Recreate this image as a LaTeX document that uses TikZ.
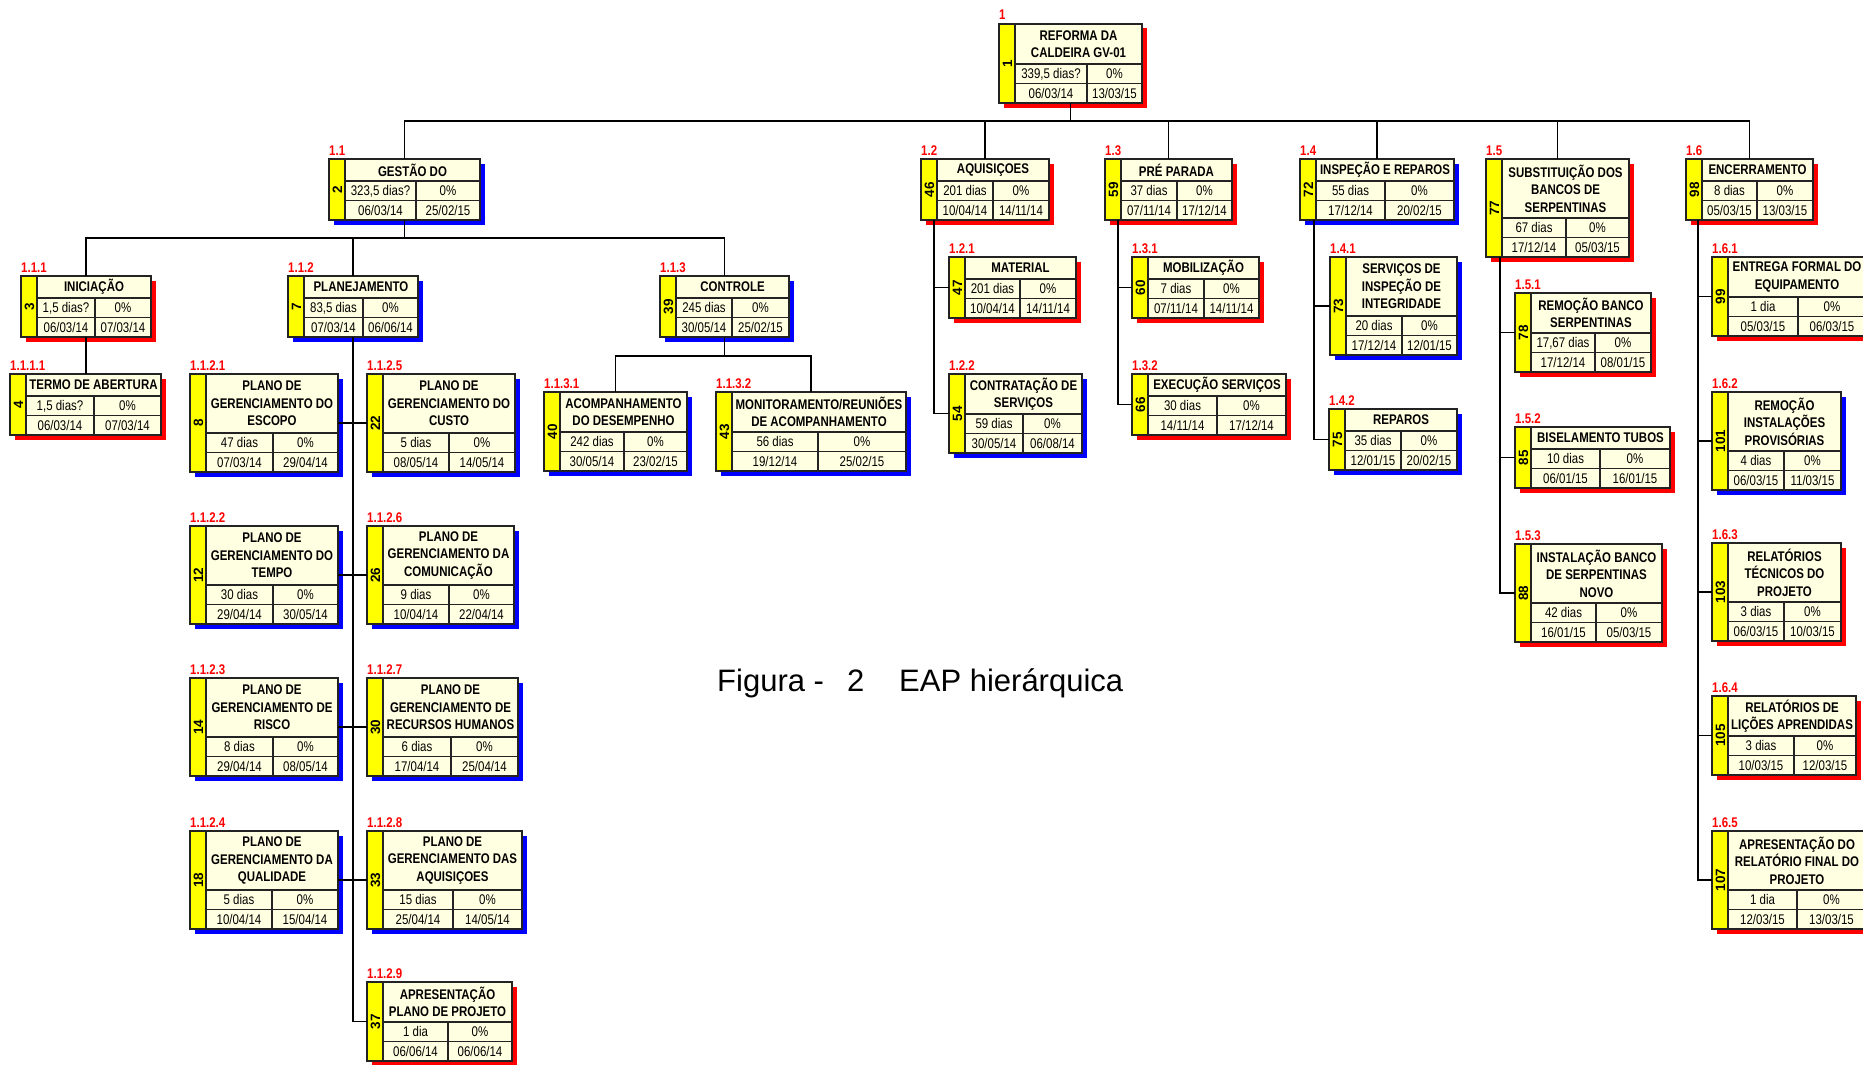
\documentclass[tikz,border=0pt]{standalone}
\usepackage{fontspec}
\setmainfont{Liberation Sans}
\newfontfamily\narrowfont{Liberation Sans}[FakeStretch=0.82]
\usetikzlibrary{calc}

\definecolor{cellfill}{RGB}{255,255,225}
\definecolor{bandfill}{RGB}{255,255,0}
\definecolor{shred}{RGB}{255,0,0}
\definecolor{shblue}{RGB}{0,0,255}
\definecolor{codered}{RGB}{255,0,0}
\definecolor{edge}{RGB}{35,35,35}

\tikzset{
  cell/.style={draw=edge, line width=1.3pt},
  headtext/.style={font=\narrowfont\bfseries\fontsize{14}{17.5}\selectfont, align=center, inner sep=0pt},
  datatext/.style={font=\narrowfont\fontsize{14}{16}\selectfont, inner sep=0pt, text height=10pt, text depth=0.5pt},
  bandtext/.style={font=\bfseries\fontsize{13.5}{15}\selectfont, rotate=90, inner sep=0pt},
  wbscode/.style={font=\narrowfont\bfseries\fontsize{14}{15}\selectfont, text=codered, anchor=base west, inner sep=0pt},
  link/.style={draw=black, line width=1.8pt},
  captext/.style={font=\fontsize{31}{34}\selectfont, anchor=base west, inner sep=0pt},
}

% \wbsbox{name}{left}{top}{right}{header height}{divider}{shadow}{code}{id}
%        {header}{duration}{progress}{start}{finish}
\newcommand\wbsbox[9]{%
  \def\wbsName{#1}\def\wbsL{#2}\def\wbsT{#3}\def\wbsR{#4}\def\wbsH{#5}%
  \def\wbsD{#6}\def\wbsS{#7}\def\wbsC{#8}\def\wbsN{#9}%
  \wbsfill}
\newcommand\wbsfill[5]{%
  \pgfmathsetmacro\wbsA{\wbsT+\wbsH}%
  \pgfmathsetmacro\wbsM{\wbsA+19.5}%
  \pgfmathsetmacro\wbsB{\wbsM+19.5}%
  \pgfmathsetmacro\wbsY{\wbsL+16}%
  \pgfmathsetmacro\wbsW{\wbsR-\wbsL}%
  \pgfmathsetmacro\wbsV{\wbsB-\wbsT}%
  \fill[\wbsS] (\wbsL+4.5,\wbsT+4.5) rectangle (\wbsR+4.5,\wbsB+4.5);
  \node[cell, fill=cellfill, anchor=north west, minimum width=\wbsW pt,
        minimum height=\wbsV pt, inner sep=0pt, outer sep=0pt] (\wbsName) at (\wbsL,\wbsT) {};
  \fill[bandfill] (\wbsL,\wbsT) rectangle (\wbsY,\wbsB);
  \draw[cell] (\wbsL,\wbsT) rectangle (\wbsR,\wbsB);
  \draw[cell] (\wbsY,\wbsT) -- (\wbsY,\wbsB)
              (\wbsY,\wbsA) -- (\wbsR,\wbsA)
              (\wbsY,\wbsM) -- (\wbsR,\wbsM)
              (\wbsD,\wbsA) -- (\wbsD,\wbsB);
  \node[headtext] (\wbsName-h) at ({(\wbsY+\wbsR)/2},{\wbsT+\wbsH/2}) {#1};
  \node[datatext] (\wbsName-d) at ({(\wbsY+\wbsD)/2},{(\wbsA+\wbsM)/2}) {#2};
  \node[datatext] (\wbsName-p) at ({(\wbsD+\wbsR)/2},{(\wbsA+\wbsM)/2}) {#3};
  \node[datatext] (\wbsName-s) at ({(\wbsY+\wbsD)/2},{(\wbsM+\wbsB)/2}) {#4};
  \node[datatext] (\wbsName-f) at ({(\wbsD+\wbsR)/2},{(\wbsM+\wbsB)/2}) {#5};
  \node[bandtext] (\wbsName-n) at ({\wbsL+8.5},{(\wbsT+\wbsB)/2}) {\wbsN};
  \node[wbscode] (\wbsName-c) at (\wbsL,\wbsT-4) {\wbsC};
}

\begin{document}
\begin{tikzpicture}[x=1pt,y=-1pt]
\useasboundingbox (0,0) rectangle (1863,1065);
\clip (0,0) rectangle (1863,1065);

% ---- project root
\wbsbox{n1}{999}{24}{1142}{40}{1087}{shred}{1}{1}
  {REFORMA DA\\CALDEIRA GV-01}{339,5 dias?}{0\%}{06/03/14}{13/03/15}

% ---- 1.1 management branch
\wbsbox{n11}{329}{159}{480}{22}{416}{shblue}{1.1}{2}
  {GESTÃO DO}{323,5 dias?}{0\%}{06/03/14}{25/02/15}
\wbsbox{n111}{21}{276}{151}{22}{95}{shred}{1.1.1}{3}
  {INICIAÇÃO}{1,5 dias?}{0\%}{06/03/14}{07/03/14}
\wbsbox{n1111}{10}{374}{161}{22}{94}{shred}{1.1.1.1}{4}
  {TERMO DE ABERTURA}{1,5 dias?}{0\%}{06/03/14}{07/03/14}
\wbsbox{n112}{288}{276}{418}{22}{363}{shblue}{1.1.2}{7}
  {PLANEJAMENTO}{83,5 dias}{0\%}{07/03/14}{06/06/14}
\wbsbox{n113}{660}{276}{789}{22}{732}{shblue}{1.1.3}{39}
  {CONTROLE}{245 dias}{0\%}{30/05/14}{25/02/15}
\wbsbox{n1131}{544}{392}{687}{40}{624}{shblue}{1.1.3.1}{40}
  {ACOMPANHAMENTO\\DO DESEMPENHO}{242 dias}{0\%}{30/05/14}{23/02/15}
\wbsbox{n1132}{716}{392}{906}{40}{818}{shblue}{1.1.3.2}{43}
  {MONITORAMENTO/REUNIÕES\\DE ACOMPANHAMENTO}{56 dias}{0\%}{19/12/14}{25/02/15}

\wbsbox{n1121}{190}{374}{338}{59}{273}{shblue}{1.1.2.1}{8}
  {PLANO DE\\GERENCIAMENTO DO\\ESCOPO}{47 dias}{0\%}{07/03/14}{29/04/14}
\wbsbox{n1125}{367}{374}{515}{59}{449}{shblue}{1.1.2.5}{22}
  {PLANO DE\\GERENCIAMENTO DO\\CUSTO}{5 dias}{0\%}{08/05/14}{14/05/14}
\wbsbox{n1122}{190}{526}{338}{59}{273}{shblue}{1.1.2.2}{12}
  {PLANO DE\\GERENCIAMENTO DO\\TEMPO}{30 dias}{0\%}{29/04/14}{30/05/14}
\wbsbox{n1126}{367}{526}{514}{59}{449}{shblue}{1.1.2.6}{26}
  {PLANO DE\\GERENCIAMENTO DA\\COMUNICAÇÃO}{9 dias}{0\%}{10/04/14}{22/04/14}
\wbsbox{n1123}{190}{678}{338}{59}{273}{shblue}{1.1.2.3}{14}
  {PLANO DE\\GERENCIAMENTO DE\\RISCO}{8 dias}{0\%}{29/04/14}{08/05/14}
\wbsbox{n1127}{367}{678}{518}{59}{451}{shblue}{1.1.2.7}{30}
  {PLANO DE\\GERENCIAMENTO DE\\RECURSOS HUMANOS}{6 dias}{0\%}{17/04/14}{25/04/14}
\wbsbox{n1124}{190}{831}{338}{59}{272}{shblue}{1.1.2.4}{18}
  {PLANO DE\\GERENCIAMENTO DA\\QUALIDADE}{5 dias}{0\%}{10/04/14}{15/04/14}
\wbsbox{n1128}{367}{831}{522}{59}{453}{shblue}{1.1.2.8}{33}
  {PLANO DE\\GERENCIAMENTO DAS\\AQUISIÇOES}{15 dias}{0\%}{25/04/14}{14/05/14}
\wbsbox{n1129}{367}{982}{512}{40}{448}{shred}{1.1.2.9}{37}
  {APRESENTAÇÃO\\PLANO DE PROJETO}{1 dia}{0\%}{06/06/14}{06/06/14}

% ---- 1.2 procurement
\wbsbox{n12}{921}{159}{1049}{22}{993}{shred}{1.2}{46}
  {AQUISIÇOES}{201 dias}{0\%}{10/04/14}{14/11/14}
\wbsbox{n121}{949}{257}{1076}{22}{1020}{shred}{1.2.1}{47}
  {MATERIAL}{201 dias}{0\%}{10/04/14}{14/11/14}
\wbsbox{n122}{949}{374}{1082}{40}{1023}{shblue}{1.2.2}{54}
  {CONTRATAÇÃO DE\\SERVIÇOS}{59 dias}{0\%}{30/05/14}{06/08/14}

% ---- 1.3 pre-shutdown
\wbsbox{n13}{1105}{159}{1232}{22}{1177}{shred}{1.3}{59}
  {PRÉ PARADA}{37 dias}{0\%}{07/11/14}{17/12/14}
\wbsbox{n131}{1132}{257}{1259}{22}{1204}{shred}{1.3.1}{60}
  {MOBILIZAÇÃO}{7 dias}{0\%}{07/11/14}{14/11/14}
\wbsbox{n132}{1132}{374}{1286}{22}{1217}{shred}{1.3.2}{66}
  {EXECUÇÃO SERVIÇOS}{30 dias}{0\%}{14/11/14}{17/12/14}

% ---- 1.4 inspection
\wbsbox{n14}{1300}{159}{1454}{22}{1385}{shblue}{1.4}{72}
  {INSPEÇÃO E REPAROS}{55 dias}{0\%}{17/12/14}{20/02/15}
\wbsbox{n141}{1330}{257}{1457}{59}{1402}{shblue}{1.4.1}{73}
  {SERVIÇOS DE\\INSPEÇÃO DE\\INTEGRIDADE}{20 dias}{0\%}{17/12/14}{12/01/15}
\wbsbox{n142}{1329}{409}{1457}{22}{1401}{shblue}{1.4.2}{75}
  {REPAROS}{35 dias}{0\%}{12/01/15}{20/02/15}

% ---- 1.5 coil bank replacement
\wbsbox{n15}{1486}{159}{1629}{59}{1566}{shred}{1.5}{77}
  {SUBSTITUIÇÃO DOS\\BANCOS DE\\SERPENTINAS}{67 dias}{0\%}{17/12/14}{05/03/15}
\wbsbox{n151}{1515}{293}{1651}{40}{1595}{shred}{1.5.1}{78}
  {REMOÇÃO BANCO\\SERPENTINAS}{17,67 dias}{0\%}{17/12/14}{08/01/15}
\wbsbox{n152}{1515}{427}{1670}{22}{1600}{shred}{1.5.2}{85}
  {BISELAMENTO TUBOS}{10 dias}{0\%}{06/01/15}{16/01/15}
\wbsbox{n153}{1515}{544}{1662}{59}{1596}{shred}{1.5.3}{88}
  {INSTALAÇÃO BANCO\\DE SERPENTINAS\\NOVO}{42 dias}{0\%}{16/01/15}{05/03/15}

% ---- 1.6 closing
\wbsbox{n16}{1686}{159}{1813}{22}{1757}{shred}{1.6}{98}
  {ENCERRAMENTO}{8 dias}{0\%}{05/03/15}{13/03/15}
\wbsbox{n161}{1712}{257}{1866}{40}{1798}{shred}{1.6.1}{99}
  {ENTREGA FORMAL DO\\EQUIPAMENTO}{1 dia}{0\%}{05/03/15}{06/03/15}
\wbsbox{n162}{1712}{392}{1841}{59}{1784}{shblue}{1.6.2}{101}
  {REMOÇÃO\\INSTALAÇÕES\\PROVISÓRIAS}{4 dias}{0\%}{06/03/15}{11/03/15}
\wbsbox{n163}{1712}{543}{1841}{59}{1784}{shred}{1.6.3}{103}
  {RELATÓRIOS\\TÉCNICOS DO\\PROJETO}{3 dias}{0\%}{06/03/15}{10/03/15}
\wbsbox{n164}{1712}{696}{1856}{40}{1794}{shred}{1.6.4}{105}
  {RELATÓRIOS DE\\LIÇÕES APRENDIDAS}{3 dias}{0\%}{10/03/15}{12/03/15}
\wbsbox{n165}{1712}{831}{1866}{59}{1797}{shred}{1.6.5}{107}
  {APRESENTAÇÃO DO\\RELATÓRIO FINAL DO\\PROJETO}{1 dia}{0\%}{12/03/15}{13/03/15}

% ---- connectors
\coordinate (bus0) at (0,121);
\draw[link] (n1.south) -- (n1.south |- bus0);
\draw[link] (n11.north) |- (n16.north |- bus0) -- (n16.north);
\foreach \c in {n12,n13,n14,n15}
  \draw[link] (\c.north) -- (\c.north |- bus0);

\coordinate (bus1) at (0,238);
\draw[link] (n11.south) -- (n11.south |- bus1);
\draw[link] (n111.north) |- (n113.north |- bus1) -- (n113.north);
\draw[link] (n112.north) -- (n112.north |- bus1);
\draw[link] (n111.south) -- (n111.south |- n1111.north);

\coordinate (bus3) at (0,356);
\draw[link] (n113.south) -- (n113.south |- bus3);
\draw[link] (n1131.north) |- (n1132.north |- bus3) -- (n1132.north);

\draw[link] (n112.south) |- (n1129.west);
\draw[link] (n1121.east) -- (n1125.west);
\draw[link] (n1122.east) -- (n1126.west);
\draw[link] (n1123.east) -- (n1127.west);
\draw[link] (n1124.east) -- (n1128.west);

\coordinate (s12) at ($(n12.south west)+(13,0)$);
\draw[link] (s12) |- (n122.west);
\draw[link] (n121.west) -- (n121.west -| s12);

\coordinate (s13) at ($(n13.south west)+(13,0)$);
\draw[link] (s13) |- (n132.west);
\draw[link] (n131.west) -- (n131.west -| s13);

\coordinate (s14) at ($(n14.south west)+(14,0)$);
\draw[link] (s14) |- (n142.west);
\draw[link] (n141.west) -- (n141.west -| s14);

\coordinate (s15) at ($(n15.south west)+(14,0)$);
\draw[link] (s15) |- (n153.west);
\foreach \c in {n151,n152}
  \draw[link] (\c.west) -- (\c.west -| s15);

\coordinate (s16) at ($(n16.south west)+(12,0)$);
\draw[link] (s16) |- (n165.west);
\foreach \c in {n161,n162,n163,n164}
  \draw[link] (\c.west) -- (\c.west -| s16);

% ---- caption
\node[captext] (cap1) at (717,691) {Figura -};
\node[captext] (cap2) at (847,691) {2};
\node[captext] (cap3) at (899,691) {EAP hierárquica};
\end{tikzpicture}
\end{document}
